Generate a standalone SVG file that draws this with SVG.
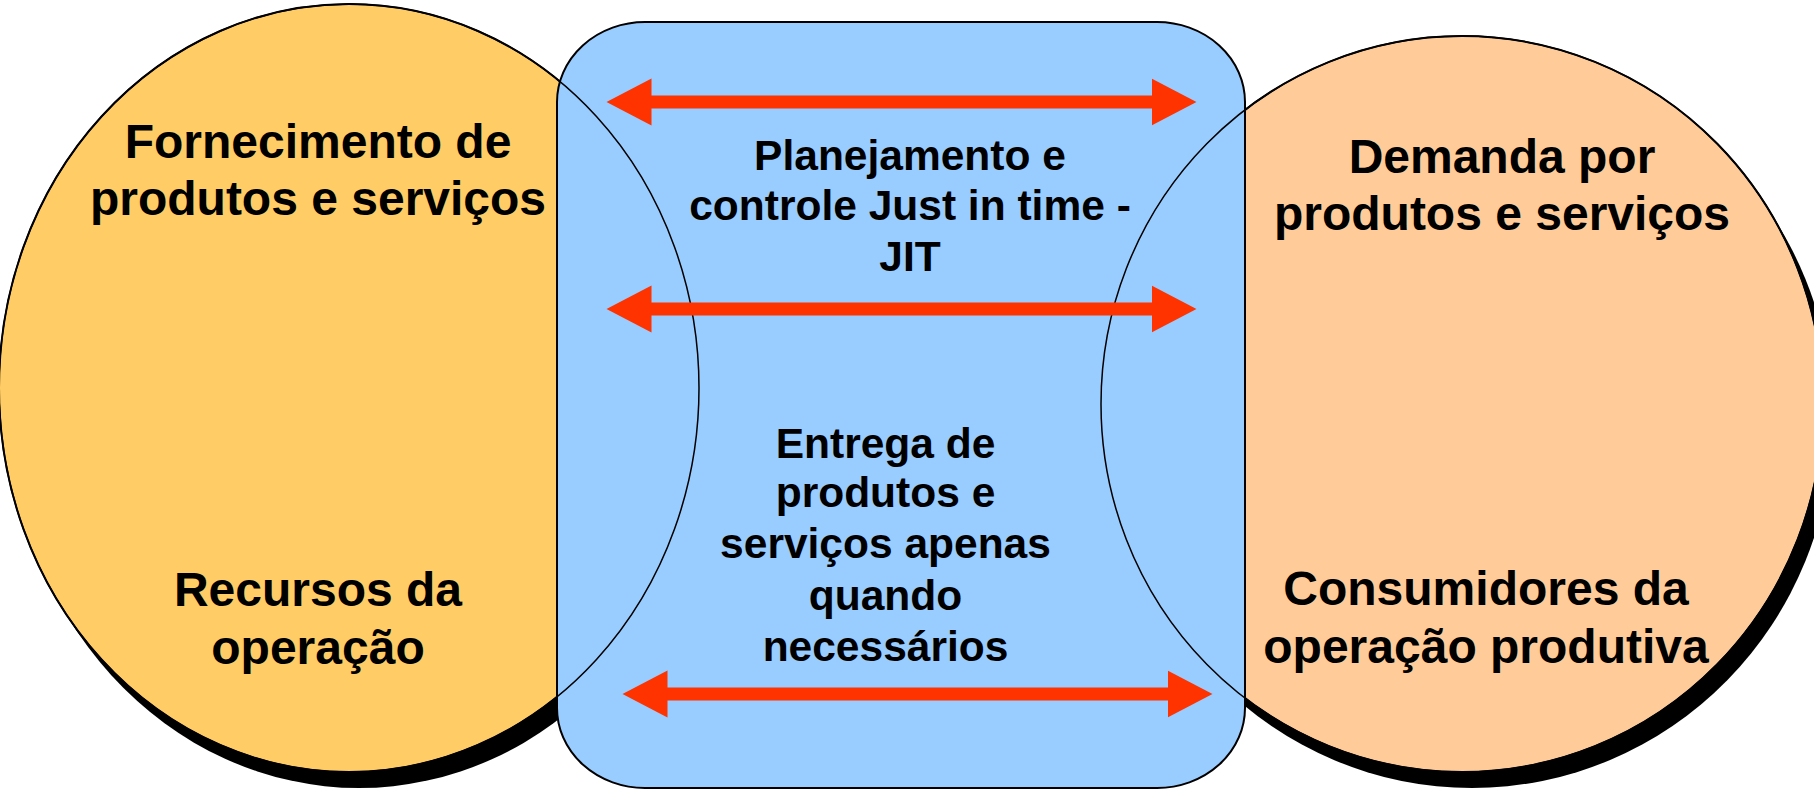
<svg xmlns="http://www.w3.org/2000/svg" width="1814" height="790" viewBox="0 0 1814 790">
<style>
.lbl{font-family:"Liberation Sans",Arial,sans-serif;font-weight:bold;fill:#000;text-anchor:middle}
.big{font-size:48px}
.mid{font-size:42.5px}
.shadow{fill:#000}
.outline{fill:none;stroke:#000;stroke-width:1.5}
.arrow{stroke:#FF3300;stroke-width:13;fill:none;marker-start:url(#head);marker-end:url(#head)}
</style>
<defs>
<marker id="head" markerUnits="userSpaceOnUse" markerWidth="46" markerHeight="48" viewBox="0 0 46 48" refX="0.5" refY="24" orient="auto-start-reverse">
<path d="M0,0.5 L45,24 L0,47.5 Z" fill="#FF3300"/>
</marker>
</defs>
<g id="shadows">
<ellipse class="shadow" cx="359" cy="404" rx="350" ry="384"/>
<ellipse class="shadow" cx="1472" cy="420" rx="361" ry="368"/>
</g>
<g id="node-supply">
<ellipse cx="349" cy="388" rx="350" ry="384" fill="#FFCC66" stroke="#000" stroke-width="2"/>
</g>
<g id="node-demand">
<ellipse cx="1462" cy="404" rx="361" ry="368" fill="#FFCC99" stroke="#000" stroke-width="2"/>
</g>
<g id="node-jit">
<rect x="557" y="22" width="688" height="766" rx="88" ry="80" fill="#99CCFF" stroke="#000" stroke-width="2"/>
</g>
<g id="overlap-outlines">
<ellipse class="outline" cx="349" cy="388" rx="350" ry="384"/>
<ellipse class="outline" cx="1462" cy="404" rx="361" ry="368"/>
</g>
<g id="connectors">
<line class="arrow" x1="651" y1="102" x2="1152" y2="102"/>
<line class="arrow" x1="651" y1="309" x2="1152" y2="309"/>
<line class="arrow" x1="667" y1="694" x2="1168" y2="694"/>
</g>
<g id="labels-supply">
<text class="lbl big" x="318" y="158">Fornecimento de</text>
<text class="lbl big" x="318" y="215">produtos e serviços</text>
<text class="lbl big" x="318" y="606">Recursos da</text>
<text class="lbl big" x="318" y="664">operação</text>
</g>
<g id="labels-jit">
<text class="lbl mid" x="910" y="170">Planejamento e</text>
<text class="lbl mid" x="910" y="220">controle Just in time -</text>
<text class="lbl mid" x="910" y="271">JIT</text>
<text class="lbl mid" x="885.5" y="458">Entrega de</text>
<text class="lbl mid" x="885.5" y="507">produtos e</text>
<text class="lbl mid" x="885.5" y="558">serviços apenas</text>
<text class="lbl mid" x="885.5" y="610">quando</text>
<text class="lbl mid" x="885.5" y="661">necessários</text>
</g>
<g id="labels-demand">
<text class="lbl big" x="1502" y="173">Demanda por</text>
<text class="lbl big" x="1502" y="230">produtos e serviços</text>
<text class="lbl big" x="1486" y="605">Consumidores da</text>
<text class="lbl big" x="1486" y="663">operação produtiva</text>
</g>
</svg>
